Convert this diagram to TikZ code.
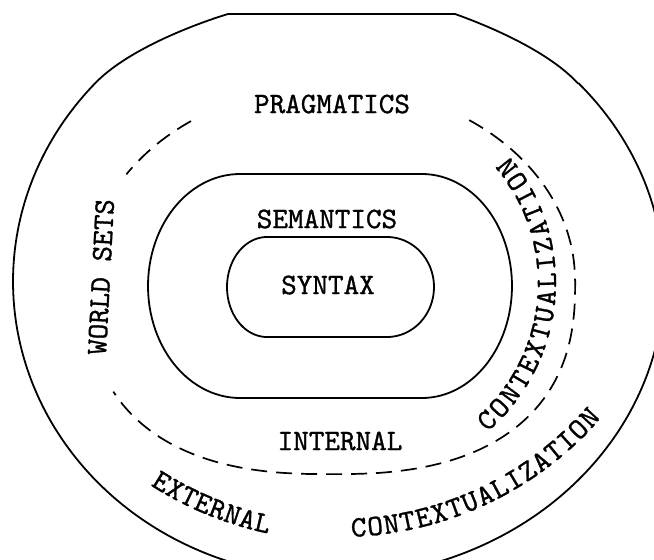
\documentclass[tikz,border=0pt]{standalone}
\usetikzlibrary{decorations.text}
\font\lblraw="[lmmono10-regular.otf]:embolden=1" at 29.7pt
\newcommand\lblfont{\lblraw}
\begin{document}
\begin{tikzpicture}[x=1pt,y=-1pt,
  ring/.style={line width=1.8pt, line join=round},
  dashring/.style={line width=1.7pt, dash pattern=on 16pt off 9pt},
  lbl/.style={font=\lblfont, inner sep=0pt}]
\useasboundingbox (0,0) rectangle (654,560);
\fill[white] (0,0) rectangle (654,560);
\clip (0,0) rectangle (654,560);

% outer boundary (pragmatics)
\draw[ring] (228,14) -- (455,14)
  .. controls (492.6,27.4) and (549,52) .. (578,83.4)
  -- plot[domain=-42:90, samples=120] ({332+332*cos(\x)},{281.5+296*sin(\x)})
  -- plot[domain=90:222, samples=120] ({332+319*cos(\x)},{281.5+296*sin(\x)})
  .. controls (126,51) and (190,25.6) .. (228,14) -- cycle;

% semantics boundary
\draw[ring] (240,174) -- (422,174)
  -- plot[domain=-90:90, samples=60] ({422+90*cos(\x)},{286+112*sin(\x)})
  -- (240,398)
  -- plot[domain=90:270, samples=60] ({240+92*cos(\x)},{286+112*sin(\x)}) -- cycle;

% syntax boundary
\draw[ring] (267,237) -- (387,237)
  -- plot[domain=-90:90, samples=50] ({387+47*cos(\x)},{287+50*sin(\x)})
  -- (267,337)
  -- plot[domain=90:270, samples=50] ({267+40*cos(\x)},{287+50*sin(\x)}) -- cycle;

% dashed ring: internal / external contextualization
\draw[dashring] plot[domain=235:213, samples=20] ({331+244*cos(\x)},{280+194*sin(\x)});
\draw[dashring] plot[domain=-55.5:0, samples=40] ({331+244*cos(\x)},{280+194*sin(\x)})
  -- plot[domain=0:150, samples=90] ({331+244*sign(cos(\x))*pow(abs(cos(\x))+0.001,0.8)},{280+194*pow(abs(sin(\x))+0.001,0.8)});

% straight labels
\node[lbl] (prag) at (332,104) {PRAGMATICS};
\node[lbl] (sem) at (327,219) {SEMANTICS};
\node[lbl] (syn) at (328,285) {SYNTAX};
\node[lbl] (int) at (340,441) {INTERNAL};
\node[lbl, rotate=87] (world) at (101,277) {WORLD SETS};

% curved labels
\path[decorate, decoration={text along path, text align={fit to path},
  text={|\lblfont|CONTEXTUALIZATION}}]
  plot[domain=0:1, samples=80] ({360+196*cos(49.5-90.1*\x)},{283+196*sin(49.5-90.1*\x)});
\path[decorate, decoration={text along path, text align={fit to path},
  text={|\lblfont|CONTEXTUALIZATION}}]
  plot[domain=0:1, samples=80] ({340+346*cos(88.1-47.2*\x)},{191+346*sin(88.1-47.2*\x)});
\path[decorate, decoration={text along path, text align={fit to path},
  text={|\lblfont|EXTERNAL}}]
  plot[domain=0:1, samples=60] ({340+350*cos(122.8-21*\x)},{191+350*sin(122.8-21*\x)});
\end{tikzpicture}
\end{document}
